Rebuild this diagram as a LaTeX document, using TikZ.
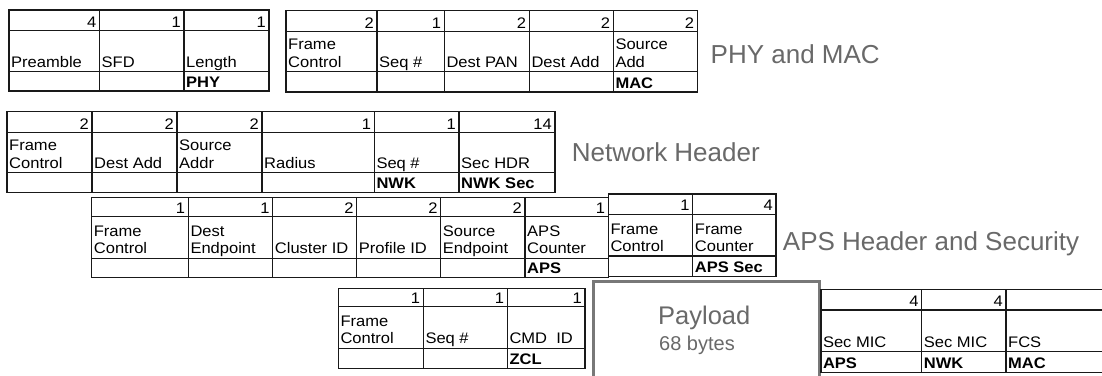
\documentclass[tikz,border=0pt]{standalone}
\usepackage{fontspec}
\setmainfont{Liberation Sans}[FakeStretch=1.08]
\newfontfamily\titlefont{Liberation Sans}
\definecolor{titlegray}{RGB}{105,105,105}
\definecolor{boxgray}{RGB}{120,120,120}
\newcounter{cellc}
\newcommand{\nm}[1]{\begin{tabular}[b]{@{}l@{}}#1\end{tabular}}
\newcommand{\pcell}[9]{%
  \stepcounter{cellc}%
  \draw[cellline] (#1,#3) rectangle (#2,#6);
  \draw[cellline] (#1,#4) -- (#2,#4) (#1,#5) -- (#2,#5);
  \node[numtxt] (num\arabic{cellc}) at ({#2-3},{#4-3.5}) {#7};
  \node[nametxt] (name\arabic{cellc}) at ({#1+2},{#5-4.5}) {\nm{#8}};
  \node[labtxt] (lab\arabic{cellc}) at ({#1+2},{#6-4}) {#9};
}
\begin{document}
\begin{tikzpicture}[x=1pt,y=-1pt,
  cellline/.style={line width=1.4pt,draw=black!90},
  tabfont/.style={font=\fontsize{15.3}{17.5}\selectfont},
  numtxt/.style={tabfont,anchor=base east,inner sep=0pt},
  nametxt/.style={tabfont,anchor=base west,inner sep=0pt},
  labtxt/.style={font=\fontsize{15.3}{17.5}\selectfont\bfseries,anchor=base west,inner sep=0pt},
  titletxt/.style={font=\titlefont\fontsize{26}{30}\selectfont,text=titlegray,anchor=base west,inner sep=0pt}]
\useasboundingbox (0,0) rectangle (1102,375);
\clip (0,0) rectangle (1102,375);
\fill[white] (0,0) rectangle (1102,375);
% Table 1: PHY
\pcell{9}{99.5}{10}{30.5}{71.7}{91}{4}{Preamble}{}
\pcell{99.5}{184}{10}{30.5}{71.7}{91}{1}{SFD}{}
\pcell{184}{269}{10}{30.5}{71.7}{91}{1}{Length}{PHY}
% Table 2: MAC
\pcell{286}{377}{10.5}{31.5}{71.7}{92}{2}{Frame\\Control}{}
\pcell{377}{444.3}{10.5}{31.5}{71.7}{92}{1}{Seq \#}{}
\pcell{444.3}{529.3}{10.5}{31.5}{71.7}{92}{2}{Dest PAN}{}
\pcell{529.3}{613.3}{10.5}{31.5}{71.7}{92}{2}{Dest Add}{}
\pcell{613.3}{697.3}{10.5}{31.5}{71.7}{92}{2}{Source\\Add}{MAC}
\node[titletxt] (t1) at (710.5,63.3) {PHY and MAC};
% Table 3: NWK
\pcell{7}{92}{111.7}{132.7}{172.7}{192.7}{2}{Frame\\Control}{}
\pcell{92}{177}{111.7}{132.7}{172.7}{192.7}{2}{Dest Add}{}
\pcell{177}{262}{111.7}{132.7}{172.7}{192.7}{2}{Source\\Addr}{}
\pcell{262}{374.3}{111.7}{132.7}{172.7}{192.7}{1}{Radius}{}
\pcell{374.3}{459}{111.7}{132.7}{172.7}{192.7}{1}{Seq \#}{NWK}
\pcell{459}{555}{111.7}{132.7}{172.7}{192.7}{14}{Sec HDR}{NWK Sec}
\node[titletxt] (t2) at (571.7,161) {Network Header};
% Table 4: APS
\pcell{91.7}{188.3}{197.5}{216.5}{258.3}{277.7}{1}{Frame\\Control}{}
\pcell{188.3}{272.7}{197.5}{216.5}{258.3}{277.7}{1}{Dest\\Endpoint}{}
\pcell{272.7}{356.7}{197.5}{216.5}{258.3}{277.7}{2}{Cluster ID}{}
\pcell{356.7}{440.7}{197.5}{216.5}{258.3}{277.7}{2}{Profile ID}{}
\pcell{440.7}{525}{197.5}{216.5}{258.3}{277.7}{2}{Source\\Endpoint}{}
\pcell{525}{608.3}{197.5}{216.5}{258.3}{277.7}{1}{APS\\Counter}{APS}
% Table 5: APS Sec
\pcell{608.3}{692.7}{194}{214.3}{256}{276.7}{1}{Frame\\Control}{}
\pcell{692.7}{776}{194}{214.3}{256}{276.7}{4}{Frame\\Counter}{APS Sec}
\node[titletxt] (t3) at (782.7,250.7) {APS Header and Security};
% Table 6: ZCL
\pcell{338.3}{423.3}{288.3}{306.7}{348.3}{368.3}{1}{Frame\\Control}{}
\pcell{423.3}{507.3}{288.3}{306.7}{348.3}{368.3}{1}{Seq \#}{}
\pcell{507.3}{585}{288.3}{306.7}{348.3}{368.3}{1}{CMD\ \ ID}{ZCL}
% Payload
\draw[line width=3pt,draw=boxgray] (593,380) -- (593,281.7) -- (819.3,281.7) -- (819.3,380);
\node[titletxt,font=\titlefont\fontsize{25.5}{30}\selectfont] (pl) at (658,324) {Payload};
\node[titletxt,font=\titlefont\fontsize{20}{24}\selectfont] (pb) at (659,350) {68 bytes};
% Table 7: MIC / FCS
\pcell{820.8}{921.7}{289.3}{310}{351.7}{372.7}{4}{Sec MIC}{APS}
\pcell{921.7}{1006}{289.3}{310}{351.7}{372.7}{4}{Sec MIC}{NWK}
\pcell{1006}{1110}{289.3}{310}{351.7}{372.7}{}{FCS}{MAC}
\end{tikzpicture}
\end{document}
